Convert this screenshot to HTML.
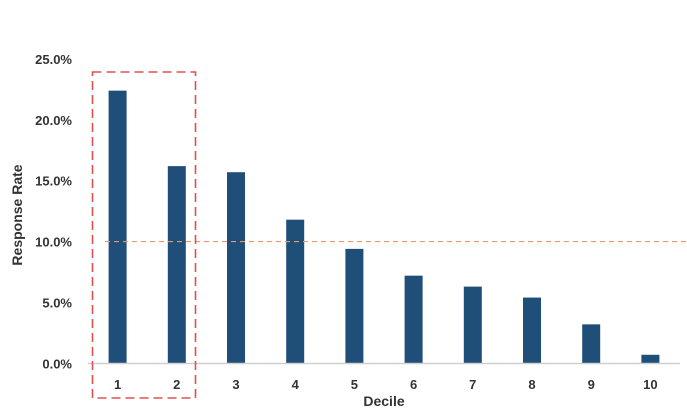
<!DOCTYPE html>
<html><head><meta charset="utf-8"><style>
html,body{margin:0;padding:0;background:#fff;width:687px;height:415px;overflow:hidden}
text{font-family:"Liberation Sans",sans-serif;fill:#333}
</style></head><body>
<svg id="chart" width="687" height="415" xmlns="http://www.w3.org/2000/svg">
<g id="yticks"></g>
<g id="bars"></g>
<g id="xticks"></g>
<line x1="88" y1="363.5" x2="680" y2="363.5" stroke="#d0d0d0" stroke-width="1.5"/>
<line id="avgline" x1="105" x2="686" stroke="#e39a6e" stroke-width="1.2" stroke-dasharray="5,4"/>
<rect x="92.5" y="72" width="103" height="326" fill="none" stroke="#e05050" stroke-width="1.6" stroke-dasharray="9,5"/>
<text transform="translate(22,215) rotate(-90)" text-anchor="middle" font-size="14" font-weight="bold">Response Rate</text>
<text x="384" y="406" text-anchor="middle" font-size="14" font-weight="bold">Decile</text>
</svg>
<script>
const categories=["1","2","3","4","5","6","7","8","9","10"];
const values=[22.4,16.2,15.7,11.8,9.4,7.2,6.3,5.4,3.2,0.7];
const yTicks=[0,5,10,15,20,25];
const yTickLabels=["0.0%","5.0%","10.0%","15.0%","20.0%","25.0%"];
const avgValue=10;
const NS="http://www.w3.org/2000/svg";
const y0=363.3,yTop=59,x0=88,x1=680;
const y=v=>y0-(v/25)*(y0-yTop);
const band=(x1-x0)/categories.length;
const xc=i=>x0+band*(i+0.5);
const bw=18;
const bars=document.getElementById('bars'),xt=document.getElementById('xticks'),yt=document.getElementById('yticks');
values.forEach((v,i)=>{
 const r=document.createElementNS(NS,'rect');
 
 
 r.setAttribute('x',xc(i)-bw/2);r.setAttribute('y',y(v));
 r.setAttribute('width',bw);r.setAttribute('height',y0-y(v));
 r.setAttribute('fill','#1f4e79');bars.appendChild(r);
 const t=document.createElementNS(NS,'text');
 
 
 t.setAttribute('x',xc(i));t.setAttribute('y',389);t.setAttribute('text-anchor','middle');
 t.setAttribute('font-size','13');t.setAttribute('font-weight','bold');
 t.textContent=categories[i];xt.appendChild(t);
});
yTicks.forEach((v,i)=>{
 const t=document.createElementNS(NS,'text');
 
 
 t.setAttribute('x',72);t.setAttribute('y',y(v)+5);t.setAttribute('text-anchor','end');
 t.setAttribute('font-size','13');t.setAttribute('font-weight','bold');
 t.textContent=yTickLabels[i];yt.appendChild(t);
});
const al=document.getElementById('avgline');
al.setAttribute('y1',y(avgValue));al.setAttribute('y2',y(avgValue));
</script>
</body></html>
